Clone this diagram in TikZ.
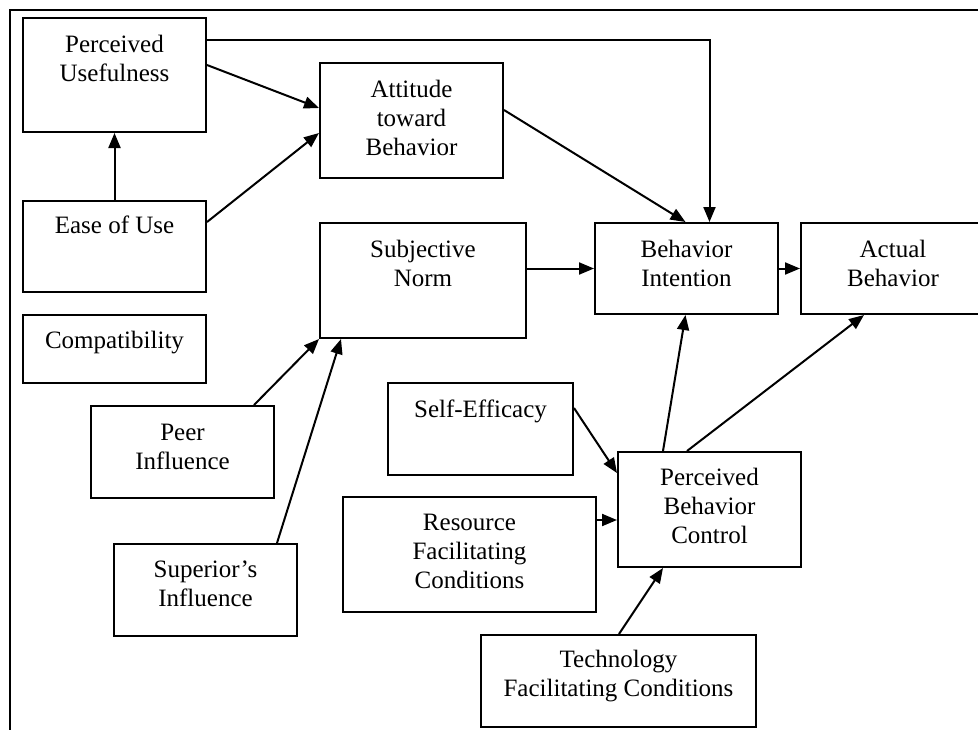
\documentclass[tikz,border=0pt]{standalone}
\usepackage{fontspec}
\setmainfont{Liberation Serif}
\usetikzlibrary{arrows.meta,calc}
\begin{document}
\begin{tikzpicture}[x=1pt,y=-1pt,
  box/.style={draw, line width=2pt, inner sep=0pt, anchor=north west},
  txt/.style={anchor=base, align=center, inner sep=0pt, font=\fontsize{25}{29}\selectfont},
  arr/.style={line width=2pt, -{Triangle[length=15pt,width=12pt]}},
  frame/.style={line width=2pt}]
\useasboundingbox (0,0) rectangle (978,729);
\clip (0,0) rectangle (978,729);
\fill[white] (0,0) rectangle (978,729);
\draw[frame] (10,760) -- (10,10) -- (1000,10);
% boxes
\node[box, minimum width=183pt, minimum height=114pt] (pu) at (22,17) {};
\node[box, minimum width=183pt, minimum height=91pt] (ease) at (22,200) {};
\node[box, minimum width=183pt, minimum height=68pt] (comp) at (22,314) {};
\node[box, minimum width=183pt, minimum height=115pt] (att) at (319,62) {};
\node[box, minimum width=206pt, minimum height=115pt] (sn) at (319,222) {};
\node[box, minimum width=183pt, minimum height=91pt] (bi) at (594,222) {};
\node[box, minimum width=184pt, minimum height=91pt] (ab) at (800,222) {};
\node[box, minimum width=183pt, minimum height=92pt] (peer) at (90,405) {};
\node[box, minimum width=185pt, minimum height=92pt] (se) at (387,382) {};
\node[box, minimum width=183pt, minimum height=92pt] (sup) at (113,543) {};
\node[box, minimum width=253pt, minimum height=115pt] (res) at (342,496) {};
\node[box, minimum width=183pt, minimum height=115pt] (pbc) at (617,451) {};
\node[box, minimum width=275pt, minimum height=92pt] (tech) at (480,634) {};
% texts (anchor = baseline of last line)
\node[txt] (tpu) at ($(pu.north)+(0,64)$) {Perceived\\Usefulness};
\node[txt] (tease) at ($(ease.north)+(0,33)$) {Ease of Use};
\node[txt] (tcomp) at ($(comp.north)+(0,34)$) {Compatibility};
\node[txt] (tatt) at ($(att.north)+(0,93)$) {Attitude\\toward\\Behavior};
\node[txt] (tsn) at ($(sn.north)+(0,64)$) {Subjective\\Norm};
\node[txt] (tbi) at ($(bi.north)+(0,64)$) {Behavior\\Intention};
\node[txt] (tab) at ($(ab.north)+(0,64)$) {Actual\\Behavior};
\node[txt] (tpeer) at ($(peer.north)+(0,64)$) {Peer\\Influence};
\node[txt] (tse) at ($(se.north)+(0,35)$) {Self-Efficacy};
\node[txt] (tsup) at ($(sup.north)+(0,63)$) {Superior’s\\Influence};
\node[txt] (tres) at ($(res.north)+(0,92)$) {Resource\\Facilitating\\Conditions};
\node[txt] (tpbc) at ($(pbc.north)+(0,92)$) {Perceived\\Behavior\\Control};
\node[txt] (ttech) at ($(tech.north)+(0,62)$) {Technology\\Facilitating Conditions};
% connectors
\draw[arr] ($(pu.north east)+(0,48)$) -- ($(att.north west)+(0,46)$);
\draw[arr] ($(ease.north east)+(0,22)$) -- ($(att.north west)+(0,71)$);
\draw[arr] (ease.north) -- (pu.south);
\draw[arr] ($(pu.north east)+(0,23)$) -| ($(bi.north)+(23,0)$);
\draw[arr] ($(att.north east)+(0,48)$) -- ($(bi.north)+(-1,0)$);
\draw[arr] (sn.east |- bi.west) -- (bi.west);
\draw[arr] (bi.east) -- (ab.west);
\draw[arr] ($(peer.north east)+(-21,0)$) -- (sn.south west);
\draw[arr] ($(sup.north east)+(-21,0)$) -- ($(sn.south west)+(22,0)$);
\draw[arr] ($(se.north east)+(0,26)$) -- ($(pbc.north west)+(0,22)$);
\draw[arr] ($(res.north east)+(0,24)$) -- ($(pbc.north west)+(0,69)$);
\draw[arr] ($(tech.north)+(0.5,0)$) -- ($(pbc.south west)+(46,0)$);
\draw[arr] ($(pbc.north west)+(46,0)$) -- ($(bi.south)+(-1,0)$);
\draw[arr] ($(pbc.north west)+(70,0)$) -- ($(ab.south west)+(64,0)$);
\end{tikzpicture}
\end{document}
